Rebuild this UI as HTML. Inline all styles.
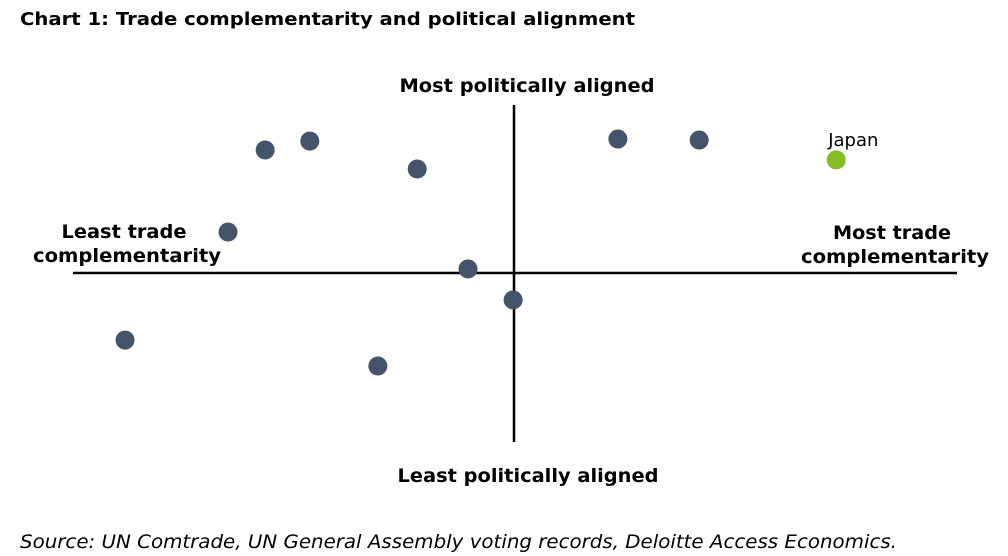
<!DOCTYPE html>
<html><head><meta charset="utf-8"><style>
html,body{margin:0;padding:0;background:#fff;}
svg{display:block;font-family:"DejaVu Sans","Liberation Sans",sans-serif;}
</style></head><body>
<svg id="chart" width="1008" height="556" viewBox="0 0 1008 556">
<text x="20" y="25" font-size="18" font-weight="bold" textLength="615" lengthAdjust="spacingAndGlyphs" fill="#000">Chart 1: Trade complementarity and political alignment</text>
<line x1="73" y1="273" x2="957" y2="273" stroke="#000" stroke-width="2.5"/>
<line x1="514" y1="105" x2="514" y2="442" stroke="#000" stroke-width="2.5"/>
<text x="527" y="92" text-anchor="middle" font-size="19" font-weight="bold" textLength="255" lengthAdjust="spacingAndGlyphs">Most politically aligned</text>
<text x="528" y="482" text-anchor="middle" font-size="19" font-weight="bold" textLength="261" lengthAdjust="spacingAndGlyphs">Least politically aligned</text>
<g font-size="19" font-weight="bold" text-anchor="middle">
<text x="124" y="238" textLength="125" lengthAdjust="spacingAndGlyphs">Least trade</text>
<text x="127" y="262" textLength="188" lengthAdjust="spacingAndGlyphs">complementarity</text>
</g>
<g font-size="19" font-weight="bold" text-anchor="middle">
<text x="892" y="239" textLength="118" lengthAdjust="spacingAndGlyphs">Most trade</text>
<text x="895" y="263" textLength="188" lengthAdjust="spacingAndGlyphs">complementarity</text>
</g>
<g id="points"></g>
<text x="20" y="548" font-size="19" font-style="italic" textLength="877" lengthAdjust="spacingAndGlyphs">Source: UN Comtrade, UN General Assembly voting records, Deloitte Access Economics.</text>
</svg>
<script>
const names = ["c1","c2","c3","c4","c5","c6","c7","c8","c9","c10","Japan"];
const tradeValues = [-5.63,-4.62,-2.19,-6.47,-1.04,-0.02,-8.80,-3.08,2.35,4.19,7.29];
const alignValues = [7.30,7.83,6.17,2.43,0.24,-1.60,-3.98,-5.52,7.95,7.89,6.71];
const labels = ["","","","","","","","","","","Japan"];
function xs(v){return 514 + v/10*442;}
function ys(v){return 273 - v/10*168.5;}
const g = document.getElementById('points');
const NS = "http://www.w3.org/2000/svg";
for(let i=0;i<names.length;i++){
  const c = document.createElementNS(NS,'circle');
  c.setAttribute('cx', xs(tradeValues[i]));
  c.setAttribute('cy', ys(alignValues[i]));
  c.setAttribute('r', 9.5);
  c.setAttribute('fill', names[i]==="Japan" ? "#86bc25" : "#44546a");
  
  
  g.appendChild(c);
  if(labels[i]){
    const t = document.createElementNS(NS,'text');
    t.setAttribute('x', xs(tradeValues[i]) - 8);
    t.setAttribute('y', ys(alignValues[i]) - 14);
    t.setAttribute('font-size', '18');
    t.textContent = labels[i];
    
    
    g.appendChild(t);
  }
}
</script>
</body></html>
